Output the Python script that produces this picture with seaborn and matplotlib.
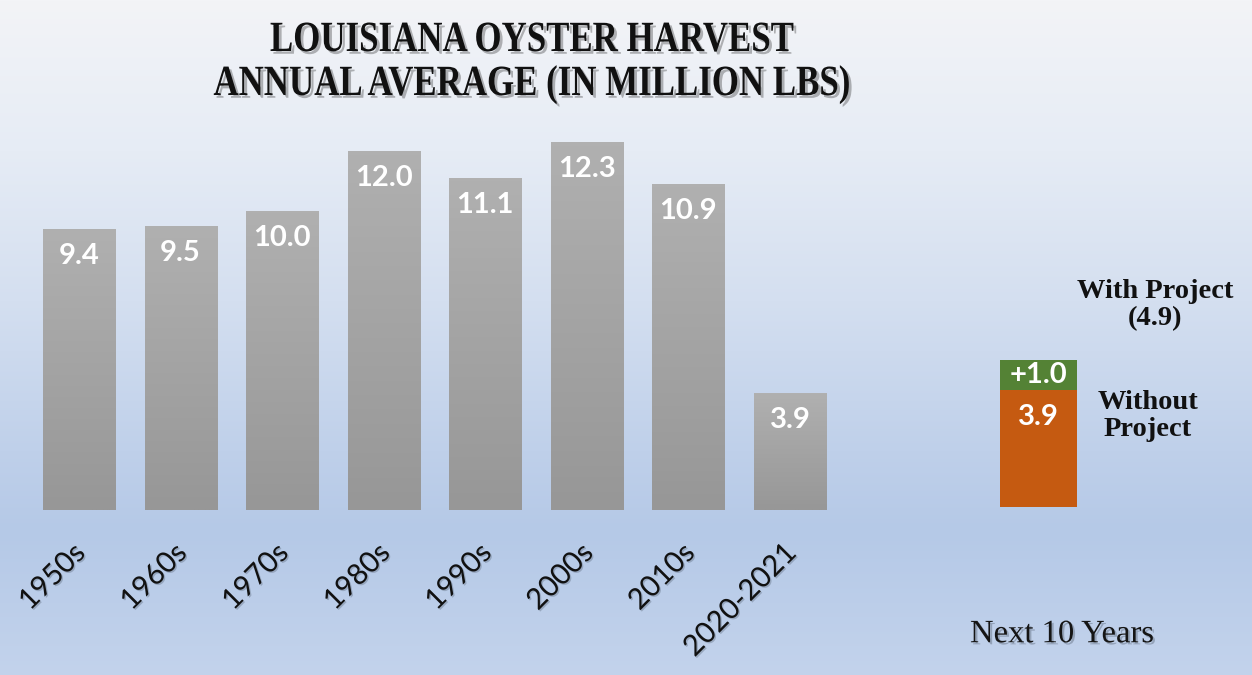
import numpy as np
import pandas as pd
import matplotlib
matplotlib.use("Agg")
import matplotlib.pyplot as plt
import seaborn as sns
from matplotlib import patheffects as pe
from matplotlib.colors import LinearSegmentedColormap
from matplotlib.transforms import ScaledTranslation, Affine2D

# ---- data -------------------------------------------------------------
decades = ["1950s", "1960s", "1970s", "1980s", "1990s", "2000s", "2010s", "2020-2021"]
harvest = [9.4, 9.5, 10.0, 12.0, 11.1, 12.3, 10.9, 3.9]

outlook_parts = ["Without Project", "With Project"]
outlook_values = [3.9, 1.0]

title_lines = ["LOUISIANA OYSTER HARVEST", "ANNUAL AVERAGE (IN MILLION LBS)"]
outlook_caption = "Next 10 Years"

# ---- figure -----------------------------------------------------------
W, H, DPI = 1252, 675, 100
sns.set_theme(style="white")
plt.rcParams["font.family"] = ["Lato", "DejaVu Sans"]

fig = plt.figure(figsize=(W / DPI, H / DPI), dpi=DPI)


def px(x, y):
    """Figure-pixel (from top-left) to figure fraction."""
    return x / W, 1 - y / H


class Squeeze(pe.AbstractPathEffect):
    """Narrow the glyph outlines horizontally about their centre."""

    def __init__(self, sx, effects):
        super().__init__()
        self.sx = sx
        self.effects = effects

    def draw_path(self, renderer, gc, tpath, affine, rgbFace=None):
        ext = tpath.get_extents()
        cx = (ext.x0 + ext.x1) / 2
        squeeze = Affine2D().translate(-cx, 0).scale(self.sx, 1).translate(cx, 0)
        for eff in self.effects:
            eff.draw_path(renderer, gc, tpath, squeeze + affine, rgbFace)


# soft sky-blue backdrop
bg = fig.add_axes([0, 0, 1, 1], zorder=-10)
rows = np.arange(H)
stop_y = [0, 150, 300, 450, 530, 675]
stop_c = np.array([[243, 244, 247], [230, 236, 245], [212, 223, 240],
                   [191, 208, 234], [181, 201, 231], [195, 211, 236]]) / 255
grad = np.stack([np.interp(rows, stop_y, stop_c[:, k]) for k in range(3)], axis=-1)
grad = np.repeat(grad[:, None, :], 4, axis=1)
bg.imshow(grad, aspect="auto", extent=[0, 1, 0, 1], origin="upper")
bg.axis("off")

UNIT = 29.9          # pixels per million lbs
YMAX = 13

# ---- historical bars --------------------------------------------------
ax = fig.add_axes([28.2 / W, 165 / H, 812.6 / W, YMAX * UNIT / H])
ax.patch.set_alpha(0)
df = pd.DataFrame({"decade": decades, "harvest": harvest})
sns.barplot(data=df, x="decade", y="harvest", color="#a6a6a6",
            width=0.71, saturation=1, linewidth=0, ax=ax)

gray_cmap = LinearSegmentedColormap.from_list("bar", ["#b0b0b0", "#979797"])
shade = np.linspace(0, 1, 100)[:, None]
for patch in list(ax.patches):
    x0, y0 = patch.get_x(), patch.get_y()
    w, h = patch.get_width(), patch.get_height()
    im = ax.imshow(shade, cmap=gray_cmap, aspect="auto", origin="upper",
                   extent=[x0, x0 + w, y0, y0 + h], zorder=patch.get_zorder() + 0.1)
    im.set_clip_path(patch)

for i, v in enumerate(harvest):
    ax.annotate(f"{v:.1f}", (i, v), xytext=(0, -19.5), textcoords="offset points",
                ha="center", va="center", color="white", fontsize=21,
                fontweight="bold", zorder=5)

ax.set_xlim(-0.5, len(decades) - 0.5)
ax.set_ylim(0, YMAX)
ax.set_xlabel("")
ax.set_ylabel("")
ax.set_yticks([])
ax.set_xticks(range(len(decades)))
ax.set_xticklabels(decades, rotation=45, ha="right", va="center",
                   rotation_mode="anchor", fontsize=21, color="#111111")
ax.tick_params(axis="x", length=0, pad=28)
shift = ScaledTranslation(0.02, 0, fig.dpi_scale_trans)
for lbl in ax.get_xticklabels():
    lbl.set_transform(lbl.get_transform() + shift)
    lbl.set_path_effects([pe.SimplePatchShadow(offset=(1, -1), shadow_rgbFace="#44505f",
                                               alpha=0.3), pe.Normal()])
sns.despine(ax=ax, left=True, bottom=True)

# ---- ten-year outlook stack -------------------------------------------
ax2 = fig.add_axes([983 / W, 168 / H, 110 / W, YMAX * UNIT / H])
ax2.patch.set_alpha(0)
total = sum(outlook_values)
sns.barplot(x=[0], y=[total], color="#548235", width=0.7, saturation=1,
            linewidth=0, ax=ax2)
sns.barplot(x=[0], y=[outlook_values[0]], color="#c55a11", width=0.7,
            saturation=1, linewidth=0, ax=ax2)
ax2.annotate(f"{outlook_values[0]:.1f}", (0, outlook_values[0]), xytext=(0, -19.5),
             textcoords="offset points", ha="center", va="center",
             color="white", fontsize=21, fontweight="bold")
ax2.text(0, outlook_values[0] + outlook_values[1] / 2, f"+{outlook_values[1]:.1f}",
         ha="center", va="center", color="white", fontsize=21, fontweight="bold")
ax2.set_xlim(-0.5, 0.5)
ax2.set_ylim(0, YMAX)
ax2.set_axis_off()

serif = ["Liberation Serif", "DejaVu Serif"]
fig.text(*px(1155, 305), f"{outlook_parts[1]}\n({total:.1f})", ha="center",
         va="center", family=serif, fontweight="bold", fontsize=20.5,
         color="#111111", linespacing=1.15)
fig.text(*px(1148, 416), outlook_parts[0].replace(" ", "\n"), ha="center",
         va="center", family=serif, fontweight="bold", fontsize=20.5,
         color="#111111", linespacing=1.15)

fig.text(*px(1062, 634), outlook_caption, ha="center", va="center", family=serif,
         fontsize=23.5, color="#151515",
         path_effects=[pe.SimplePatchShadow(offset=(1.5, -1.5), shadow_rgbFace="#44505f",
                                            alpha=0.35), pe.Normal()])

# ---- title ------------------------------------------------------------
title_fx = [Squeeze(0.81, [pe.SimplePatchShadow(offset=(2, -2),
                                                shadow_rgbFace="#333333", alpha=0.35),
                           pe.Normal()])]
for line, y in zip(title_lines, [51, 95]):
    fig.text(*px(532, y), line, ha="center", va="baseline", family=serif,
             fontweight="bold", fontsize=31, color="#111111", path_effects=title_fx)

fig.savefig("out.png", dpi=DPI)
